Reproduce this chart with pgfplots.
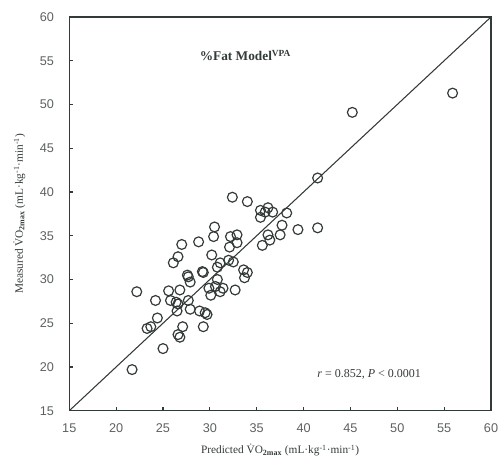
\documentclass[border=0pt]{standalone}
\usepackage{fontspec}
\setmainfont{Liberation Serif}
\newfontfamily\ticksf{Liberation Sans}
\usepackage{pgfplots}
\pgfplotsset{compat=1.18}
\definecolor{ink}{rgb}{0.2,0.23,0.21}
\begin{document}
\begin{tikzpicture}
\begin{axis}[
  scale only axis,
  width=316.5pt, height=295.5pt,
  xmin=15, xmax=60, ymin=15, ymax=60,
  xtick={15,20,...,60}, ytick={15,20,...,60},
  xtick pos=bottom, ytick pos=left,
  tick align=inside, major tick length=3pt,
  axis line style={ink, line width=0.9pt},
  tick style={ink, line width=0.8pt},
  /pgf/number format/assume math mode=true,
  ticklabel style={font=\ticksf\fontsize{9.5}{11}\selectfont, text=ink!80},
  xticklabel style={yshift=-6pt},
  yticklabel style={xshift=-8pt},
  xlabel={Predicted \.{V}O\textsubscript{\textbf{2max}} (mL·kg\textsuperscript{-1}·min\textsuperscript{-1})},
  ylabel={Measured \.{V}O\textsubscript{\textbf{2max}} (mL·kg\textsuperscript{-1}·min\textsuperscript{-1})},
  label style={font=\fontsize{8.5}{10}\selectfont, text=ink},
  xlabel style={yshift=-2pt},
  ylabel style={yshift=4pt},
]
\addplot[ink, line width=0.8pt] coordinates {(15,15) (60,60)};
\addplot[only marks, mark=o, mark size=3.7pt, mark options={ink, line width=0.9pt}] table {
x y
21.7 19.7
22.2 28.6
25.0 22.1
23.3 24.4
23.7 24.6
24.4 25.6
24.2 27.6
25.6 28.7
25.8 27.6
26.8 28.8
26.4 27.4
26.6 27.2
26.5 26.4
26.6 23.7
26.8 23.4
27.1 24.6
27.0 34.0
26.6 32.6
26.1 31.9
27.6 30.5
27.7 30.3
27.9 29.7
27.7 27.6
27.9 26.6
28.8 34.3
28.9 26.4
29.7 26.0
29.3 24.6
29.2 30.9
29.3 30.8
30.4 34.9
30.2 32.8
29.9 29.0
30.1 28.2
30.8 31.4
30.8 30.0
31.1 31.9
31.1 28.6
31.4 29.0
30.6 29.2
32.2 34.9
32.1 33.7
32.9 35.1
32.9 34.2
32.0 32.2
32.5 32.0
32.7 28.8
34.0 30.8
33.6 31.1
33.7 30.2
32.4 39.4
34.0 38.9
30.5 36.0
35.4 37.9
36.2 38.2
35.4 37.1
35.9 37.7
36.7 37.7
38.2 37.6
39.4 35.7
36.2 35.1
36.4 34.5
35.6 33.9
37.5 35.1
37.7 36.2
41.5 41.6
41.5 35.9
45.2 49.1
55.9 51.3
29.5 26.2
};
\node[font=\bfseries\fontsize{10}{12}\selectfont, text=ink] at (axis cs:33.8,55.6) {\%Fat Model\textsuperscript{VPA}};
\node[font=\fontsize{9}{11}\selectfont, text=ink] at (axis cs:47,19.1) {\textit{r} = 0.852, \textit{P} < 0.0001};
\end{axis}
\pgfresetboundingbox
\useasboundingbox ([shift={(-52pt,-46pt)}]current axis.south west) rectangle ([shift={(6pt,12.75pt)}]current axis.north east);
\end{tikzpicture}
\end{document}
